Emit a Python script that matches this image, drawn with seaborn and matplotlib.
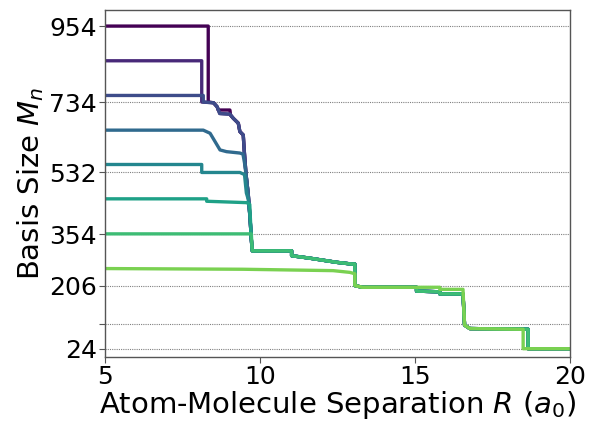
import matplotlib
matplotlib.use("Agg")
import matplotlib.pyplot as plt
import seaborn as sns
import numpy as np
import pandas as pd

# ---- data (R in a0, basis size M_n) ----
tail_R = [11.02, 11.02, 11.6, 12.47, 12.96, 13.06, 13.06, 13.3, 15.05, 15.05, 15.8, 15.8, 16.55, 16.6, 16.77, 18.65, 18.65, 20.0]
tail_M = [306, 292, 285, 273, 268, 268, 206, 201, 201, 190, 188, 182, 182, 92, 82, 80, 24, 24]

collapse_R = [9.14, 9.3, 9.35, 9.46, 9.49, 9.55, 9.62, 9.68, 9.72, 9.75]
collapse_M = [688, 674, 650, 640, 597, 526, 470, 400, 340, 306]

s954_R = [5.0, 8.33, 8.33, 8.5, 8.62, 8.65, 9.03, 9.05] + collapse_R + tail_R
s954_M = [954, 954, 735, 733, 721, 712, 712, 697] + collapse_M + tail_M

s854_R = [5.0, 8.12, 8.12, 8.5, 8.62, 8.7, 9.03] + collapse_R + tail_R
s854_M = [854, 854, 735, 733, 721, 702, 700] + collapse_M + tail_M

s754_R = [5.0, 8.17, 8.17, 8.5, 8.62, 8.7, 9.03] + collapse_R + tail_R
s754_M = [754, 754, 735, 733, 721, 702, 700] + collapse_M + tail_M

s654_R = [5.0, 8.17, 8.39, 8.55, 8.71, 8.92, 9.35, 9.45, 9.5, 9.55, 9.62, 9.68, 9.72, 9.75] + tail_R
s654_M = [654, 654, 645, 621, 597, 592, 588, 585, 560, 526, 470, 400, 340, 306] + tail_M

s554_R = [5.0, 8.12, 8.12, 9.35, 9.5, 9.56, 9.62, 9.68, 9.72, 9.75] + tail_R
s554_M = [555, 555, 532, 532, 526, 473, 455, 400, 340, 306] + tail_M

s454_R = [5.0, 8.28, 8.28, 9.57, 9.67, 9.72, 9.75] + tail_R
s454_M = [456, 456, 449, 445, 440, 340, 306] + tail_M

s354_R = [5.0, 9.72, 9.75] + tail_R
s354_M = [355, 355, 306] + tail_M

s254_R = [5.0, 9.45, 12.36, 12.9, 13.06, 13.06, 13.3, 15.8, 15.8, 16.55, 16.6, 16.77, 18.49, 18.49, 20.0]
s254_M = [255, 253, 249, 244, 240, 206, 201, 201, 195, 195, 92, 82, 80, 24, 24]

series_names = ["954", "854", "754", "654", "554", "454", "354", "254"]
series_R = [s954_R, s854_R, s754_R, s654_R, s554_R, s454_R, s354_R, s254_R]
series_M = [s954_M, s854_M, s754_M, s654_M, s554_M, s454_M, s354_M, s254_M]

ytick_vals = [24, 96, 206, 354, 532, 734, 954]
ytick_labels = ["24", "", "206", "354", "532", "734", "954"]
xtick_vals = [5, 10, 15, 20]

# ---- build long table ----
frames = []
for name, R, M in zip(series_names, series_R, series_M):
    frames.append(pd.DataFrame({"R": R, "M": M, "series": name}))
df = pd.concat(frames, ignore_index=True)

sns.set_style("white")
plt.rcParams["font.family"] = ["DejaVu Sans"]
plt.rcParams["mathtext.fontset"] = "dejavusans"
plt.rcParams["text.color"] = "black"
plt.rcParams["axes.labelcolor"] = "black"
plt.rcParams["xtick.color"] = "black"
plt.rcParams["ytick.color"] = "black"

colors = [plt.cm.viridis(v) for v in np.linspace(0, 0.8, len(series_names))]

fig = plt.figure(figsize=(5.9, 4.22), dpi=100)
ax = fig.add_axes([0.178, 0.154, 0.788, 0.822])

for yv in ytick_vals:
    ax.axhline(yv, color="#808080", linestyle=(0, (1, 1)), linewidth=0.8, zorder=0)

sns.lineplot(data=df, x="R", y="M", hue="series", hue_order=series_names,
             palette=colors, sort=False, estimator=None, legend=False,
             linewidth=2.4, ax=ax)

ax.set_xlim(5, 20)
ax.set_ylim(0, 1000)
ax.set_xticks(xtick_vals)
ax.set_xticklabels([str(v) for v in xtick_vals])
ax.set_yticks(ytick_vals)
ax.set_yticklabels(ytick_labels)
ax.tick_params(axis="both", labelsize=18, length=4, width=0.8, color="#555555",
               labelcolor="black", pad=2, direction="out", bottom=True, left=True)
for sp in ax.spines.values():
    sp.set_color("#555555")
    sp.set_linewidth(1.0)

ax.set_xlabel(r"Atom-Molecule Separation $R$ ($a_0$)", fontsize=21, labelpad=0, color="black")
ax.set_ylabel(r"Basis Size $M_n$", fontsize=21, labelpad=2, color="black")

fig.savefig("out.png", dpi=100)
